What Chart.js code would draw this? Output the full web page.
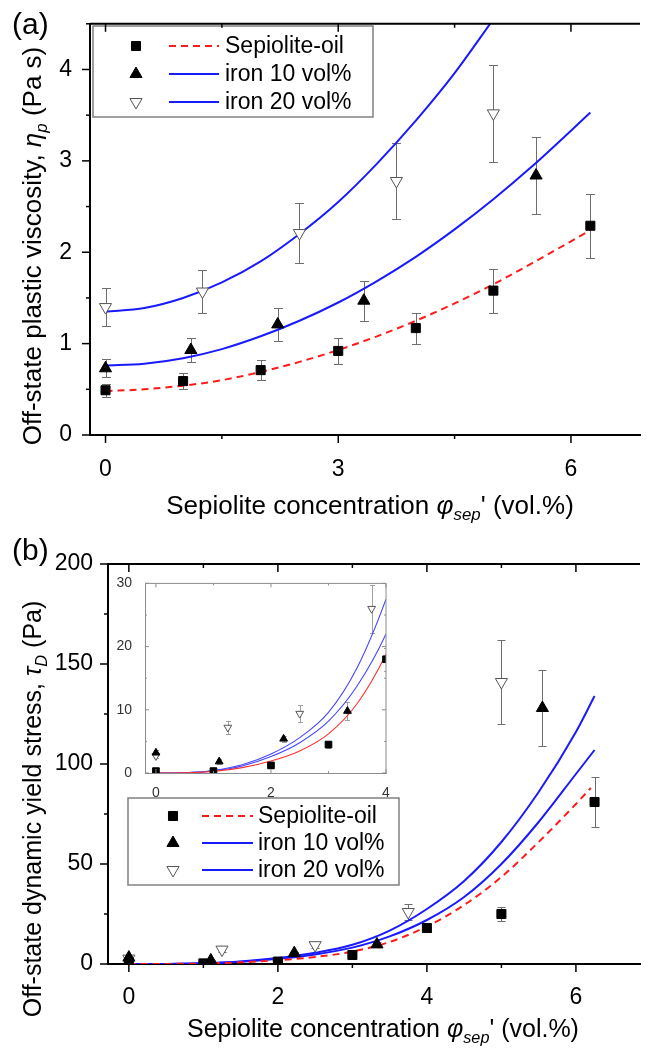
<!DOCTYPE html>
<html>
<head>
<meta charset="utf-8">
<script src="https://cdn.jsdelivr.net/npm/chart.js@4.4.1/dist/chart.umd.min.js"></script>
<style>
  body { margin: 0; background: #fff; }
  #wrap { position: relative; width: 648px; height: 1053px; overflow: hidden; background: #fff;
          font-family: "Liberation Sans", Arial, sans-serif; color: #000; }
  canvas { position: absolute; }
  .lab { position: absolute; font-size: 30px; line-height: 30px; }
  .ttl { position: absolute; white-space: nowrap; font-size: 25px; line-height: 30px; }
  .ytl { transform: translate(-50%, -50%) rotate(-90deg); }
  .xtl { transform: translate(-50%, -50%); }
  .ttl sub { font-size: 65%; vertical-align: -0.35em; line-height: 0; }
</style>
</head>
<body>
<div id="wrap">
  <canvas id="ca" width="648" height="480" style="left:0;top:0"></canvas>
  <canvas id="cb" width="648" height="573" style="left:0;top:480px"></canvas>
  <canvas id="ci" width="285" height="230" style="left:110px;top:570px"></canvas>
  <div class="lab" style="left:12px;top:9px">(a)</div>
  <div class="lab" style="left:12px;top:535px">(b)</div>
  <div class="ttl ytl" style="left:32px;top:246px;font-size:26px">Off-state plastic viscosity, <i>η</i><sub><i>p</i></sub> (Pa s)</div>
  <div class="ttl xtl" style="left:370px;top:505px;font-size:26px">Sepiolite concentration <i>φ</i><sub><i>sep</i></sub>' (vol.%)</div>
  <div class="ttl ytl" style="left:32px;top:809px">Off-state dynamic yield stress, <i>τ</i><sub><i>D</i></sub> (Pa)</div>
  <div class="ttl xtl" style="left:383px;top:1028px">Sepiolite concentration <i>φ</i><sub><i>sep</i></sub>' (vol.%)</div>
</div>
<script>
// ---- panel (a): off-state plastic viscosity (Pa s)
const sepX = [0, 1, 2, 3, 4, 5, 6.25]
const sepEta = [0.49, 0.59, 0.71, 0.92, 1.17, 1.58, 2.29]
const sepEtaErr = [0.07, 0.09, 0.11, 0.14, 0.17, 0.24, 0.35]
const fe10X = [0, 1.1, 2.22, 3.33, 5.55]
const fe10Eta = [0.73, 0.93, 1.21, 1.47, 2.84]
const fe10EtaErr = [0.10, 0.135, 0.18, 0.22, 0.42]
const fe20X = [0, 1.25, 2.5, 3.75, 5]
const fe20Eta = [1.40, 1.57, 2.21, 2.78, 3.52]
const fe20EtaErr = [0.21, 0.24, 0.33, 0.42, 0.53]

// fitted curves of (a)
const fitX = [0, 0.5, 1, 1.5, 2, 2.5, 3, 3.5, 4, 4.5, 5, 5.5, 6, 6.25]
const sepEtaFit = [0.48, 0.50, 0.54, 0.60, 0.69, 0.80, 0.93, 1.08, 1.25, 1.44, 1.65, 1.88, 2.12, 2.24]
const fe10EtaFit = [0.76, 0.78, 0.84, 0.94, 1.08, 1.25, 1.45, 1.685, 1.95, 2.25, 2.58, 2.94, 3.33, 3.53]
const fe20EtaFitX = [0, 0.5, 1, 1.5, 2, 2.5, 3, 3.5, 4, 4.5, 5]
const fe20EtaFit = [1.35, 1.39, 1.50, 1.67, 1.90, 2.20, 2.55, 2.97, 3.44, 3.96, 4.55]

// ---- panel (b): off-state dynamic yield stress (Pa)
const sepTau = [0.3, 0.3, 1.2, 4.5, 18, 25, 81]
const sepTauErr = [0.3, 0.3, 0.4, 0.6, 1.8, 3.7, 12.5]
const fe10Tau = [3.2, 1.8, 5.4, 9.8, 128]
const fe10TauErr = [0.5, 0.4, 0.5, 1.4, 19]
const fe20Tau = [2.7, 7.2, 9.4, 26, 141]
const fe20TauErr = [0.4, 1.0, 1.4, 3.8, 21]

const sepTauFitX = [0, 0.5, 1, 1.5, 2, 2.5, 3, 3.5, 4, 4.5, 5, 5.5, 6, 6.2]
const sepTauFit = [0, 0.03, 0.25, 0.85, 1.9, 3.5, 6.2, 11.0, 18.8, 29.5, 43.5, 61, 80, 88]
const fe10TauFit = [0, 0.04, 0.33, 1.1, 2.6, 4.8, 8.2, 13.8, 22, 33.5, 50, 71, 95, 107]
const fe20TauFit = [0, 0.05, 0.4, 1.3, 3.0, 5.6, 9.6, 16.7, 27.5, 41.5, 61, 86, 116, 134]

// tick labels
const xTicksA = [0, 3, 6]
const yTicksA = [0, 1, 2, 3, 4]
const xTicksB = [0, 2, 4, 6]
const yTicksB = [0, 50, 100, 150, 200]
const xTicksIn = [0, 2, 4]
const yTicksIn = [0, 10, 20, 30]

const names = ['Sepiolite-oil', 'iron 10 vol%', 'iron 20 vol%']

Chart.defaults.font.family = '"Liberation Sans", Arial, sans-serif'

const pts = (xs, ys) => xs.map((x, i) => ({x: x, y: ys[i]}))

// major ticks plus minor ticks half way between
function withMinor(majors, min, max) {
    const step = majors[1] - majors[0]
    const out = majors.map(v => [v, true])
    ;[majors[0] - step].concat(majors).forEach(v => {
        const m = v + step / 2
        if (m >= min && m <= max) out.push([m, false])
    })
    return out
}

const frameTicks = {
    id: 'frameTicks',
    afterDraw(chart, args, o) {
        const {ctx, chartArea: a} = chart
        const x = chart.scales.x, y = chart.scales.y
        ctx.save()
        ctx.strokeStyle = o.color
        ctx.lineWidth = o.width
        ctx.beginPath()
        ctx.moveTo(a.left, a.top)
        ctx.lineTo(a.right, a.top)
        if (o.box) ctx.lineTo(a.right, a.bottom)
        ctx.stroke()
        ctx.lineWidth = o.tickWidth
        const seg = (x1, y1, x2, y2) => { ctx.beginPath(); ctx.moveTo(x1, y1); ctx.lineTo(x2, y2); ctx.stroke() }
        withMinor(o.xt, x.min, x.max).forEach(([v, major]) => {
            const p = x.getPixelForValue(v), L = major ? o.major : o.minor
            seg(p, a.bottom, p, a.bottom + (o.box ? -L : L))
            seg(p, a.top, p, a.top + L)
        })
        withMinor(o.yt, y.min, y.max).forEach(([v, major]) => {
            const p = y.getPixelForValue(v), L = major ? o.major : o.minor
            seg(a.left, p, a.left + (o.box ? L : -L), p)
            if (o.box) seg(a.right, p, a.right - L, p)
        })
        ctx.restore()
    }
}

const errBars = {
    id: 'errBars',
    beforeDatasetsDraw(chart, args, o) {
        const {ctx, chartArea: a} = chart
        const x = chart.scales.x, y = chart.scales.y
        ctx.save()
        ctx.beginPath()
        ctx.rect(a.left, a.top, a.width, a.height)
        ctx.clip()
        ctx.strokeStyle = o.color
        ctx.lineWidth = 1
        chart.data.datasets.forEach(ds => {
            if (!ds.err) return
            ds.data.forEach((pt, i) => {
                const px = Math.round(x.getPixelForValue(pt.x)) + 0.5
                const hi = Math.round(y.getPixelForValue(pt.y + ds.err[i])) + 0.5
                const lo = Math.round(y.getPixelForValue(pt.y - ds.err[i])) + 0.5
                ctx.beginPath()
                ctx.moveTo(px, hi); ctx.lineTo(px, lo)
                ctx.moveTo(px - o.cap, hi); ctx.lineTo(px + o.cap, hi)
                ctx.moveTo(px - o.cap, lo); ctx.lineTo(px + o.cap, lo)
                ctx.stroke()
            })
        })
        ctx.restore()
    }
}

function marker(ctx, style, rot, r, cx, cy) {
    ctx.beginPath()
    if (style === 'rect') {
        const s = Math.SQRT1_2 * r
        ctx.rect(cx - s, cy - s, 2 * s, 2 * s)
    } else {
        let ang = rot * Math.PI / 180
        for (let k = 0; k < 3; k++) {
            const px = cx + Math.sin(ang) * r, py = cy - Math.cos(ang) * r
            k ? ctx.lineTo(px, py) : ctx.moveTo(px, py)
            ang += 2 * Math.PI / 3
        }
        ctx.closePath()
    }
    ctx.fill()
    ctx.stroke()
}

const boxLegend = {
    id: 'boxLegend',
    afterDatasetsDraw(chart, args, o) {
        if (!o.x) return
        const ctx = chart.ctx
        const ds = chart.data.datasets
        ctx.save()
        ctx.fillStyle = '#fff'
        ctx.fillRect(o.x, o.y, o.w, o.h)
        ctx.strokeStyle = '#808080'
        ctx.lineWidth = 1.5
        ctx.strokeRect(o.x, o.y, o.w, o.h)
        ctx.font = o.font
        ctx.textBaseline = 'middle'
        for (let i = 0; i < 3; i++) {
            const cy = o.y + o.first + i * o.gap
            const p = ds[i], l = ds[i + 3]
            ctx.fillStyle = p.pointBackgroundColor
            ctx.strokeStyle = p.pointBorderColor
            ctx.lineWidth = 1
            marker(ctx, p.pointStyle, p.pointRotation || 0, p.pointRadius, o.mx, cy)
            ctx.strokeStyle = l.borderColor
            ctx.lineWidth = l.borderWidth
            ctx.setLineDash(l.borderDash || [])
            ctx.beginPath()
            ctx.moveTo(o.l1, cy); ctx.lineTo(o.l2, cy)
            ctx.stroke()
            ctx.setLineDash([])
            ctx.fillStyle = '#000'
            ctx.fillText(l.label, o.tx, cy + 1)
        }
        ctx.restore()
    }
}

const whiteArea = {
    id: 'whiteArea',
    beforeDraw(chart, args, o) {
        if (!o.on) return
        const a = chart.chartArea
        chart.ctx.save()
        chart.ctx.fillStyle = '#fff'
        chart.ctx.fillRect(a.left, a.top, a.width, a.height)
        chart.ctx.restore()
    }
}

function datasets(s) {
    return [
        {label: names[0], data: pts(sepX, s.sep), err: s.sepErr, showLine: false,
         pointStyle: 'rect', pointRadius: s.rr, pointBackgroundColor: '#000', pointBorderColor: '#000', pointBorderWidth: 1},
        {label: names[1], data: pts(fe10X, s.fe10), err: s.fe10Err, showLine: false,
         pointStyle: 'triangle', pointRadius: s.tr, pointBackgroundColor: '#000', pointBorderColor: '#000', pointBorderWidth: 1},
        {label: names[2], data: pts(fe20X, s.fe20), err: s.fe20Err, showLine: false,
         pointStyle: 'triangle', pointRotation: 180, pointRadius: s.tr, pointBackgroundColor: '#fff', pointBorderColor: '#555', pointBorderWidth: 1},
        {label: names[0], data: pts(s.sepFitX, s.sepFit), pointRadius: 0, borderColor: s.red, borderWidth: s.lw,
         borderDash: s.dash, cubicInterpolationMode: 'monotone'},
        {label: names[1], data: pts(s.fitX, s.fe10Fit), pointRadius: 0, borderColor: s.blue, borderWidth: s.lw,
         cubicInterpolationMode: 'monotone'},
        {label: names[2], data: pts(s.fe20FitX, s.fe20Fit), pointRadius: 0, borderColor: s.blue, borderWidth: s.lw,
         cubicInterpolationMode: 'monotone'}
    ]
}

function makeChart(id, o) {
    const tickFont = {size: o.fs, family: '"Liberation Sans", Arial, sans-serif'}
    return new Chart(document.getElementById(id), {
        type: 'line',
        data: {datasets: o.datasets},
        options: {
            responsive: false,
            animation: false,
            devicePixelRatio: 1,
            layout: {padding: o.pad},
            plugins: {
                legend: {display: false},
                tooltip: {enabled: false},
                frameTicks: Object.assign({xt: o.xt, yt: o.yt}, o.frame),
                errBars: o.err,
                boxLegend: o.legend || {},
                whiteArea: {on: !!o.white}
            },
            scales: {
                x: {
                    type: 'linear', min: o.xr[0], max: o.xr[1],
                    afterBuildTicks: s => { s.ticks = o.xt.map(v => ({value: v})) },
                    afterFit: s => { s.height = o.xh },
                    grid: {display: false},
                    border: {color: o.frame.color, width: o.frame.width},
                    ticks: {font: tickFont, color: o.tc, padding: o.xpad, maxRotation: 0}
                },
                y: {
                    type: 'linear', min: o.yr[0], max: o.yr[1],
                    afterBuildTicks: s => { s.ticks = o.yt.map(v => ({value: v})) },
                    afterFit: s => { s.width = o.yw },
                    grid: {display: false},
                    border: {color: o.frame.color, width: o.frame.width},
                    ticks: {font: tickFont, color: o.tc, padding: o.ypad}
                }
            }
        },
        plugins: [whiteArea, errBars, frameTicks, boxLegend]
    })
}

const mainFrame = {color: '#000', width: 2, tickWidth: 1.5, major: 8, minor: 4, box: false}

makeChart('ca', {
    datasets: datasets({
        sep: sepEta, sepErr: sepEtaErr, fe10: fe10Eta, fe10Err: fe10EtaErr, fe20: fe20Eta, fe20Err: fe20EtaErr,
        sepFitX: fitX, sepFit: sepEtaFit, fitX: fitX, fe10Fit: fe10EtaFit, fe20FitX: fe20EtaFitX, fe20Fit: fe20EtaFit,
        rr: 6.4, tr: 7, red: '#ff1a1a', blue: '#1a1aff', lw: 2, dash: [7, 5]
    }),
    pad: {top: 16, right: 0, left: 0, bottom: 0},
    xr: [-0.2, 6.89], yr: [0, 4.5], xt: xTicksA, yt: yTicksA,
    xh: 45, yw: 90, fs: 23, tc: '#000', xpad: 13, ypad: 10,
    frame: mainFrame,
    err: {color: '#6e6e6e', cap: 4.5},
    legend: {x: 93, y: 26, w: 280, h: 91, first: 20, gap: 28, mx: 136, l1: 169, l2: 219, tx: 225,
             font: '23px "Liberation Sans", Arial, sans-serif'}
})

makeChart('cb', {
    datasets: datasets({
        sep: sepTau, sepErr: sepTauErr, fe10: fe10Tau, fe10Err: fe10TauErr, fe20: fe20Tau, fe20Err: fe20TauErr,
        sepFitX: sepTauFitX, sepFit: sepTauFit, fitX: fitX, fe10Fit: fe10TauFit, fe20FitX: fitX, fe20Fit: fe20TauFit,
        rr: 6.4, tr: 7, red: '#ff1a1a', blue: '#1a1aff', lw: 2, dash: [7, 5]
    }),
    pad: {top: 84, right: 0, left: 0, bottom: 0},
    xr: [-0.28, 6.86], yr: [0, 200], xt: xTicksB, yt: yTicksB,
    xh: 89, yw: 108, fs: 23, tc: '#000', xpad: 12, ypad: 7,
    frame: mainFrame,
    err: {color: '#6e6e6e', cap: 4},
    legend: {x: 128, y: 318, w: 271, h: 87, first: 18, gap: 27, mx: 173, l1: 202, l2: 253, tx: 258,
             font: '23px "Liberation Sans", Arial, sans-serif'}
})

makeChart('ci', {
    datasets: datasets({
        sep: sepTau, sepErr: sepTauErr, fe10: fe10Tau, fe10Err: fe10TauErr, fe20: fe20Tau, fe20Err: fe20TauErr,
        sepFitX: sepTauFitX, sepFit: sepTauFit, fitX: fitX, fe10Fit: fe10TauFit, fe20FitX: fitX, fe20Fit: fe20TauFit,
        rr: 4.7, tr: 4.5, red: '#ff3030', blue: '#4646ff', lw: 1.1, dash: []
    }),
    pad: {top: 9, right: 9, left: 0, bottom: 0},
    xr: [-0.19, 4], yr: [0, 30], xt: xTicksIn, yt: yTicksIn,
    xh: 27, yw: 35, fs: 14, tc: '#333', xpad: 4, ypad: 5,
    frame: {color: '#8c8c8c', width: 1, tickWidth: 1, major: 4, minor: 2, box: true},
    err: {color: '#a0a0a0', cap: 2.5},
    white: true
})
</script>
</body>
</html>
